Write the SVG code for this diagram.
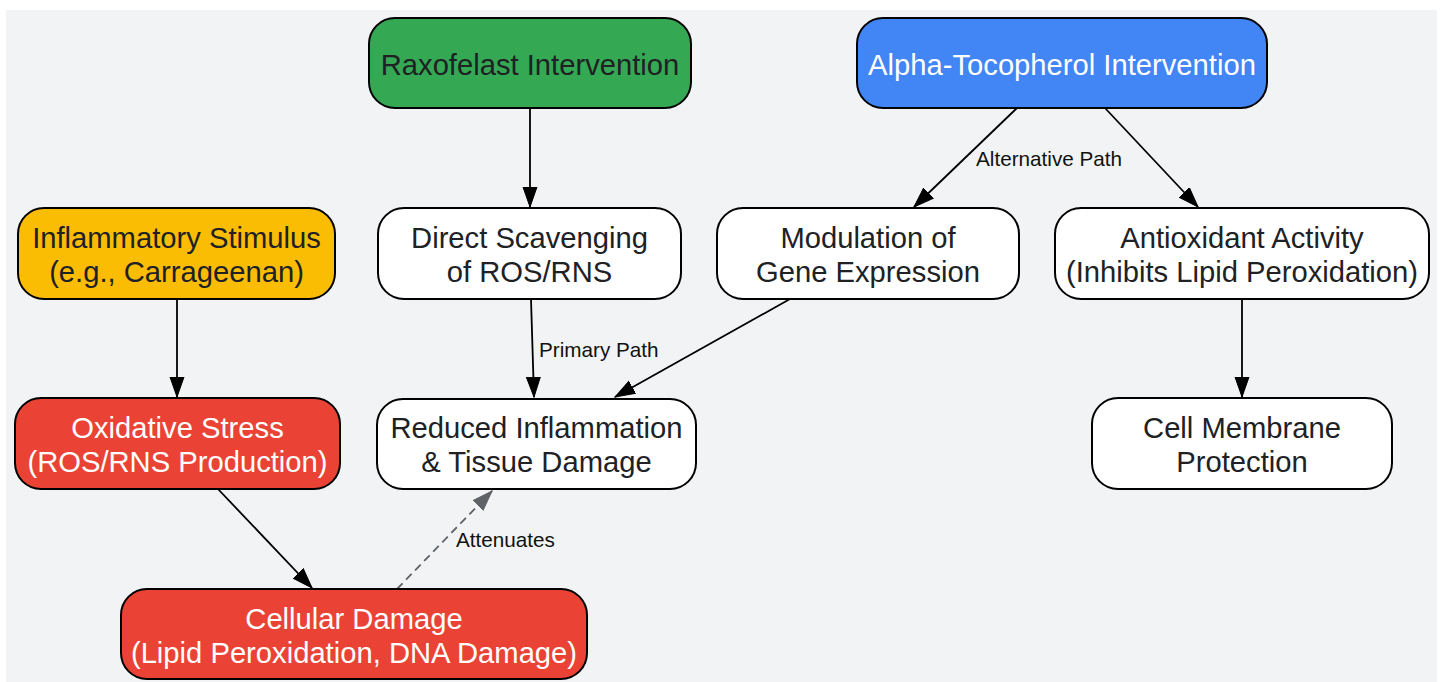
<svg xmlns="http://www.w3.org/2000/svg" width="1441" height="682" viewBox="0 0 1441 682">
<style>
.node rect{stroke:#000;stroke-width:2}
.t{font-family:"Liberation Sans",Arial,sans-serif;font-size:29.2px;text-anchor:middle}
.dark{fill:#202124}
.light{fill:#ffffff}
.lbl{font-family:"Liberation Sans",Arial,sans-serif;font-size:20.7px;fill:#111111}
.e{stroke:#000;stroke-width:1.8;fill:none}
.ed{stroke:#5f6368;stroke-width:1.8;fill:none;stroke-dasharray:8,5}
</style>
<defs>
<marker id="ah" markerUnits="userSpaceOnUse" markerWidth="21" markerHeight="16" refX="20" refY="8" orient="auto" viewBox="0 0 21 16">
<path d="M0,1 L20,8 L0,15 z" fill="#000" stroke="#000" stroke-width="1"/>
</marker>
<marker id="ahg" markerUnits="userSpaceOnUse" markerWidth="21" markerHeight="16" refX="20" refY="8" orient="auto" viewBox="0 0 21 16">
<path d="M0,1 L20,8 L0,15 z" fill="#5f6368" stroke="#5f6368" stroke-width="1"/>
</marker>
</defs>
<rect x="0" y="0" width="1441" height="682" fill="#ffffff"/>
<rect x="6" y="10" width="1431" height="672" fill="#f1f3f4"/>

<g id="edges">
<line class="e" x1="530" y1="109" x2="530" y2="207" marker-end="url(#ah)"/>
<line class="e" x1="1017" y1="108" x2="914" y2="207" marker-end="url(#ah)"/>
<line class="e" x1="1105" y1="108" x2="1198" y2="207" marker-end="url(#ah)"/>
<line class="e" x1="177" y1="299" x2="177" y2="397" marker-end="url(#ah)"/>
<line class="e" x1="531" y1="299" x2="534" y2="397" marker-end="url(#ah)"/>
<line class="e" x1="790" y1="299" x2="615" y2="397" marker-end="url(#ah)"/>
<line class="e" x1="1242" y1="299" x2="1242" y2="397" marker-end="url(#ah)"/>
<line class="e" x1="218" y1="489" x2="312" y2="588" marker-end="url(#ah)"/>
<line class="ed" x1="397" y1="589" x2="492" y2="491" marker-end="url(#ahg)"/>
<text class="lbl" x="976" y="166">Alternative Path</text>
<text class="lbl" x="539" y="357">Primary Path</text>
<text class="lbl" x="456" y="547">Attenuates</text>
</g>

<g id="raxofelast" class="node">
<rect x="369" y="18" width="322" height="90" rx="26" fill="#34a853"/>
<text class="t dark" x="530" y="75">Raxofelast Intervention</text>
</g>
<g id="alpha" class="node">
<rect x="857" y="18" width="410" height="90" rx="26" fill="#4285f4"/>
<text class="t light" x="1062" y="75">Alpha-Tocopherol Intervention</text>
</g>
<g id="stimulus" class="node">
<rect x="18" y="208" width="317" height="91" rx="26" fill="#fbbc04"/>
<text class="t dark" x="176.5" y="248">Inflammatory Stimulus</text>
<text class="t dark" x="176.5" y="282">(e.g., Carrageenan)</text>
</g>
<g id="scavenging" class="node">
<rect x="378" y="208" width="303" height="91" rx="26" fill="#ffffff"/>
<text class="t dark" x="529.5" y="248">Direct Scavenging</text>
<text class="t dark" x="529.5" y="282">of ROS/RNS</text>
</g>
<g id="modulation" class="node">
<rect x="717" y="208" width="302" height="91" rx="26" fill="#ffffff"/>
<text class="t dark" x="868" y="248">Modulation of</text>
<text class="t dark" x="868" y="282">Gene Expression</text>
</g>
<g id="antioxidant" class="node">
<rect x="1055" y="208" width="374" height="91" rx="26" fill="#ffffff"/>
<text class="t dark" x="1242" y="248">Antioxidant Activity</text>
<text class="t dark" x="1242" y="282">(Inhibits Lipid Peroxidation)</text>
</g>
<g id="oxidative" class="node">
<rect x="15" y="398" width="325" height="91" rx="26" fill="#ea4335"/>
<text class="t light" x="177.5" y="438">Oxidative Stress</text>
<text class="t light" x="177.5" y="472">(ROS/RNS Production)</text>
</g>
<g id="reduced" class="node">
<rect x="377" y="399" width="319" height="90" rx="26" fill="#ffffff"/>
<text class="t dark" x="536.5" y="438">Reduced Inflammation</text>
<text class="t dark" x="536.5" y="472">&amp; Tissue Damage</text>
</g>
<g id="membrane" class="node">
<rect x="1092" y="398" width="300" height="91" rx="26" fill="#ffffff"/>
<text class="t dark" x="1242" y="438">Cell Membrane</text>
<text class="t dark" x="1242" y="472">Protection</text>
</g>
<g id="cellular" class="node">
<rect x="121" y="589" width="466" height="90" rx="26" fill="#ea4335"/>
<text class="t light" x="354" y="629">Cellular Damage</text>
<text class="t light" x="354" y="663">(Lipid Peroxidation, DNA Damage)</text>
</g>
</svg>
